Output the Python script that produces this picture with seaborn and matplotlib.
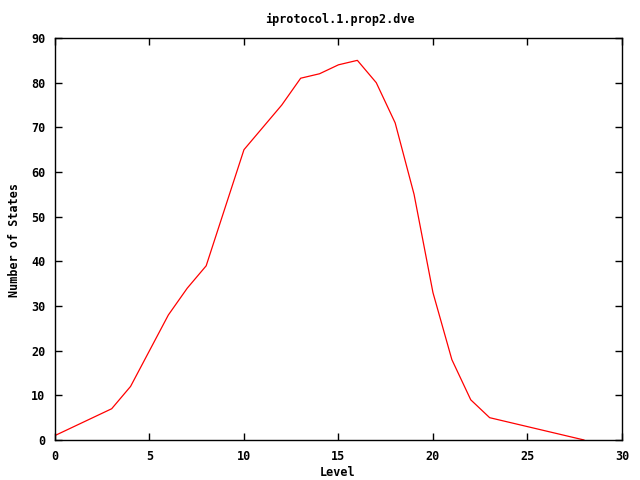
import numpy as np
import pandas as pd
import seaborn as sns
import matplotlib
matplotlib.use('Agg')
import matplotlib.pyplot as plt

# values
levels = list(range(0, 29))
states = [1, 3, 5, 7, 12, 20, 28, 34, 39, 52, 65, 70, 75, 81, 82, 84, 85,
          80, 71, 55, 33, 18, 9, 5, 4, 3, 2, 1, 0]
x_ticks = [0, 5, 10, 15, 20, 25, 30]
y_ticks = [0, 10, 20, 30, 40, 50, 60, 70, 80, 90]

df = pd.DataFrame({'Level': levels, 'States': states})

sns.set_style("ticks")
plt.rcParams['font.family'] = ['DejaVu Sans Mono', 'DejaVu Sans']
plt.rcParams['font.weight'] = 'bold'
plt.rcParams['font.size'] = 8.5
plt.rcParams['text.color'] = 'black'
plt.rcParams['axes.labelcolor'] = 'black'

fig = plt.figure(figsize=(6.4, 4.8), dpi=100)
ax = fig.add_axes([0.0859, 0.0833, 0.8859, 0.8375])

sns.lineplot(data=df, x='Level', y='States', ax=ax, color='#ff0000',
             linewidth=0.9, legend=False)

ax.set_xlim(0, 30)
ax.set_ylim(0, 90)
ax.set_xticks(x_ticks)
ax.set_yticks(y_ticks)
ax.tick_params(direction='in', length=5, width=1, top=True, right=True,
               labelsize=8.5, colors='black', pad=7)
for lbl in ax.get_xticklabels() + ax.get_yticklabels():
    lbl.set_fontweight('bold')
for _, spine in ax.spines.items():
    spine.set_visible(True)
    spine.set_linewidth(1)
    spine.set_color('black')

ax.set_xlabel('')
ax.set_ylabel('')
# labels placed like the gnuplot output
fig.text(338 / 640, 1 - 472 / 480, 'Level', ha='center', va='center',
         fontsize=8.5, fontweight='bold', color='black')
fig.text(15 / 640, 0.5, 'Number of States', ha='center', va='center',
         rotation=90, fontsize=8.5, fontweight='bold', color='black')
fig.text(340 / 640, 1 - 19 / 480, 'iprotocol.1.prop2.dve', ha='center',
         va='center', fontsize=8.5, fontweight='bold', color='black')

fig.savefig('out.png', dpi=100)
